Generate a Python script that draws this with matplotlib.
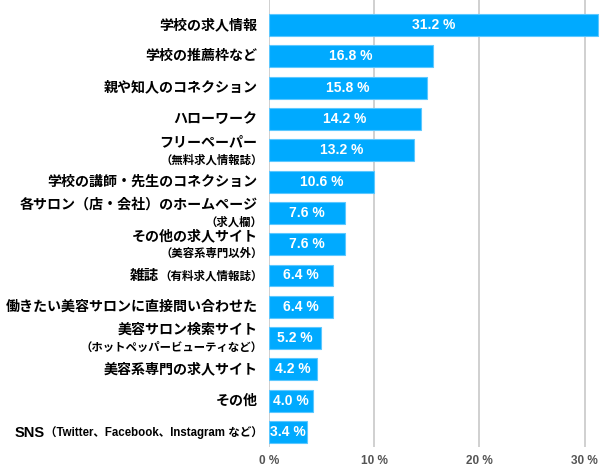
import matplotlib.pyplot as plt

plt.rcParams['font.family'] = ['Liberation Sans', 'Noto Sans CJK JP', 'DejaVu Sans']

# データ
labels_main = ["学校の求人情報", "学校の推薦枠など", "親や知人のコネクション", "ハローワーク",
               "フリーペーパー", "学校の講師・先生のコネクション", "各サロン（店・会社）のホームページ",
               "その他の求人サイト", "雑誌", "働きたい美容サロンに直接問い合わせた",
               "美容サロン検索サイト", "美容系専門の求人サイト", "その他", "SNS"]
labels_sub = ["", "", "", "", "（無料求人情報誌）", "", "（求人欄）", "（美容系専門以外）",
              "（有料求人情報誌）", "", "（ホットペッパービューティなど）", "", "",
              "（Twitter、Facebook、Instagram など）"]
inline_sub = [False] * 8 + [True] + [False] * 4 + [True]
# 表示されている値
values = [31.2, 16.8, 15.8, 14.2, 13.2, 10.6, 7.6, 7.6, 6.4, 6.4, 5.2, 4.2, 4.0, 3.4]
# 棒の長さ（元の図の目盛りから読んだもの）
bar_lengths = [31.27, 15.57, 15.06, 14.43, 13.83, 10.0, 7.25, 7.25, 6.08, 6.08, 4.94, 4.56, 4.18, 3.61]
xticks = [0, 10, 20, 30]

fig = plt.figure(figsize=(6, 4.71), dpi=100)
ax = fig.add_axes([268.7 / 600, 1 - 447 / 471, 331.3 / 600, 447 / 471])

y = list(range(len(values)))
ax.barh(y, bar_lengths, height=0.7, color='#00aaff', edgecolor='#5cc8ff', linewidth=0.8, zorder=3)

ax.set_xlim(0, 331.3 / 10.53)
ax.set_ylim(13.48, -0.8)

for v, b, yi in zip(values, bar_lengths, y):
    ax.text(b / 2, yi, f"{v:.1f} %", color='white', fontsize=10, fontweight='bold',
            ha='center', va='center', zorder=4)

# 項目ラベル
trans = ax.get_yaxis_transform()
for yi, main, sub, inl in zip(y, labels_main, labels_sub, inline_sub):
    if not sub:
        ax.annotate(main, xy=(0, yi), xycoords=trans, xytext=(-8, 0), textcoords='offset points',
                    ha='right', va='center', fontsize=10.1, fontweight='bold')
    elif inl:
        t = ax.annotate(sub, xy=(0, yi), xycoords=trans, xytext=(-4.5, -0.5), textcoords='offset points',
                        ha='right', va='center', fontsize=8.3, fontweight='bold')
        ax.annotate(main, xy=(0, 0.5), xycoords=t, ha='right', va='center',
                    fontsize=10.5, fontweight='bold')
    else:
        ax.annotate(main, xy=(0, yi), xycoords=trans, xytext=(-8, 6), textcoords='offset points',
                    ha='right', va='center', fontsize=10.1, fontweight='bold')
        ax.annotate(sub, xy=(0, yi), xycoords=trans, xytext=(-4.5, -6.8), textcoords='offset points',
                    ha='right', va='center', fontsize=8.2, fontweight='bold')

ax.set_yticks([])
ax.set_xticks(xticks)
ax.set_xticklabels([f"{t} %" for t in xticks], color='#555555', fontsize=8.5, fontweight='bold')
ax.tick_params(axis='x', length=0, pad=6)
ax.grid(axis='x', color='#c8c8c8', linewidth=1.2, zorder=0)
for s in ax.spines.values():
    s.set_visible(False)

fig.savefig('out.png', dpi=100)
